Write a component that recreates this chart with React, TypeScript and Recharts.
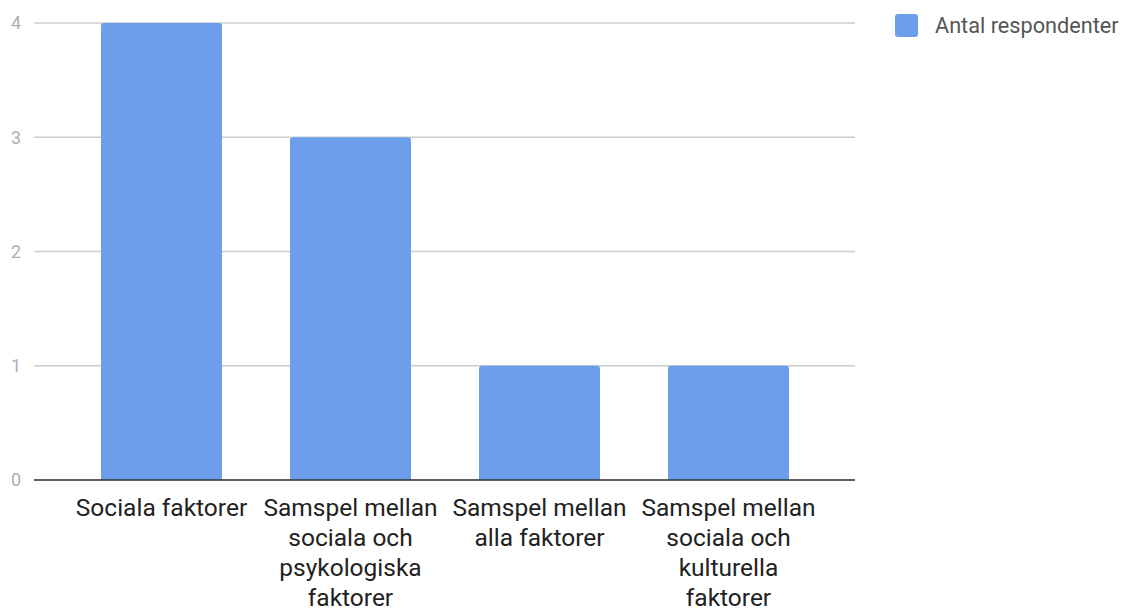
import { BarChart, Bar, XAxis, YAxis, CartesianGrid, Legend } from 'recharts'

const categories = [
  'Sociala faktorer',
  'Samspel mellan sociala och psykologiska faktorer',
  'Samspel mellan alla faktorer',
  'Samspel mellan sociala och kulturella faktorer',
]
const respondents = [4, 3, 1, 1]
const yTicks = [0, 1, 2, 3, 4]
const seriesName = 'Antal respondenter'

const data = categories.map((name, i) => ({ name, value: respondents[i] }))

const FONT = 'Roboto, "Noto Sans", sans-serif'
const BAR_COLOR = '#6d9eeb'
const LABEL_SIZE = 24.5
const WRAP_WIDTH = 186

let ctx: CanvasRenderingContext2D | null = null
function wrap(label: string): string[] {
  if (!ctx) ctx = document.createElement('canvas').getContext('2d')
  if (!ctx) return [label]
  ctx.font = `${LABEL_SIZE}px ${FONT}`
  const lines: string[] = []
  let cur = ''
  for (const word of label.split(' ')) {
    const next = cur ? `${cur} ${word}` : word
    if (cur && ctx.measureText(next).width > WRAP_WIDTH) {
      lines.push(cur)
      cur = word
    } else {
      cur = next
    }
  }
  if (cur) lines.push(cur)
  return lines
}

// eslint-disable-next-line @typescript-eslint/no-explicit-any
function CategoryTick(props: any) {
  const { x, y, payload } = props
  const lines = wrap(String(payload.value))
  return (
    <text
      x={x}
      y={y}
      textAnchor="middle"
      fontSize={LABEL_SIZE}
      fontFamily={FONT}
      fill="#222"
    >
      {lines.map((line, i) => (
        <tspan key={i} x={x} y={y + 28 + i * 30}>
          {line}
        </tspan>
      ))}
    </text>
  )
}

function LegendContent() {
  return (
    <div style={{ display: 'flex', alignItems: 'center', fontFamily: FONT }}>
      <span
        style={{
          width: 23,
          height: 23,
          borderRadius: 3,
          background: BAR_COLOR,
          display: 'inline-block',
          marginRight: 17,
        }}
      />
      <span style={{ fontSize: 21.7, color: '#555' }}>{seriesName}</span>
    </div>
  )
}

export default function App() {
  return (
    <div style={{ position: 'absolute', left: 0, top: 0, background: '#fff' }}>
      <BarChart
        width={1128}
        height={608}
        data={data}
        margin={{ top: 23, right: 273, bottom: 0, left: 0 }}
      >
        <CartesianGrid vertical={false} stroke="#ccc" strokeWidth={1.3} />
        <XAxis
          dataKey="name"
          interval={0}
          height={128}
          padding={{ left: 33, right: 32 }}
          tickLine={false}
          axisLine={{ stroke: '#333', strokeWidth: 1.6 }}
          tick={<CategoryTick />}
        />
        <YAxis
          width={34}
          domain={[0, 4]}
          ticks={yTicks}
          tickLine={false}
          axisLine={false}
          tickSize={0}
          tickMargin={13}
          tick={{ fill: '#b0b0b0', fontSize: 18, fontFamily: FONT }}
        />
        <Legend
          layout="vertical"
          align="center"
          verticalAlign="middle"
          content={<LegendContent />}
          wrapperStyle={{ left: 895, top: 13, width: 'auto' }}
        />
        <Bar
          dataKey="value"
          name={seriesName}
          fill={BAR_COLOR}
          barSize={121}
          radius={[3, 3, 0, 0]}
          isAnimationActive={false}
        />
      </BarChart>
    </div>
  )
}
